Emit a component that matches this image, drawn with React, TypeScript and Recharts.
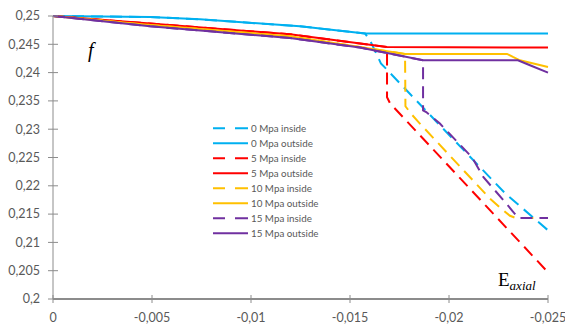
import { LineChart, Line, XAxis, YAxis } from 'recharts'

type Pt = [number, number]

// axial strain (compression negative) vs friction coefficient f
const outside0: Pt[] = [[0, 0.25], [-0.0049, 0.24982], [-0.00742, 0.24942], [-0.01247, 0.24818], [-0.01576, 0.2469], [-0.025, 0.2469]]
const inside0: Pt[] = [[0, 0.25], [-0.0049, 0.24982], [-0.00742, 0.24942], [-0.01247, 0.24818], [-0.01576, 0.2469], [-0.01601, 0.24571], [-0.01656, 0.24164], [-0.01954, 0.23069], [-0.02283, 0.21869], [-0.025, 0.21214]]

const outside5: Pt[] = [[0, 0.25], [-0.0049, 0.24866], [-0.01197, 0.24677], [-0.01687, 0.24452], [-0.025, 0.24442]]
const inside5: Pt[] = [[0, 0.25], [-0.0049, 0.24866], [-0.01197, 0.24677], [-0.01687, 0.24452], [-0.01687, 0.23564], [-0.01702, 0.23458], [-0.025, 0.20472]]

const outside10: Pt[] = [[0, 0.25], [-0.0049, 0.24841], [-0.01197, 0.24641], [-0.01778, 0.2433], [-0.02293, 0.2433], [-0.02323, 0.24276], [-0.02358, 0.24217], [-0.025, 0.24099]]
const inside10: Pt[] = [[0, 0.25], [-0.0049, 0.24841], [-0.01197, 0.24641], [-0.01778, 0.2433], [-0.0178, 0.23405], [-0.01811, 0.23263], [-0.01853, 0.23099], [-0.02207, 0.21774], [-0.02274, 0.21567], [-0.02308, 0.2147], [-0.02338, 0.21431], [-0.025, 0.21431]]

const outside15: Pt[] = [[0, 0.25], [-0.0049, 0.24818], [-0.01197, 0.24611], [-0.0155, 0.24442], [-0.01869, 0.24217], [-0.02348, 0.24217], [-0.02409, 0.24129], [-0.025, 0.24]]
const inside15: Pt[] = [[0, 0.25], [-0.0049, 0.24818], [-0.01197, 0.24611], [-0.0155, 0.24442], [-0.01869, 0.24217], [-0.01869, 0.23334], [-0.01885, 0.23304], [-0.01954, 0.23099], [-0.02116, 0.22504], [-0.02173, 0.22156], [-0.02283, 0.21713], [-0.02325, 0.21537], [-0.02348, 0.21431], [-0.025, 0.21431]]

const xTicks = [0, -0.005, -0.01, -0.015, -0.02, -0.025]
const yTicks = [0.2, 0.205, 0.21, 0.215, 0.22, 0.225, 0.23, 0.235, 0.24, 0.245, 0.25]

const BLUE = '#00B0F0'
const RED = '#FF0000'
const GOLD = '#FFC000'
const PURPLE = '#7030A0'

const series = [
  { name: '0 Mpa inside', color: BLUE, dashed: true, points: inside0 },
  { name: '0 Mpa outside', color: BLUE, dashed: false, points: outside0 },
  { name: '5 Mpa inside', color: RED, dashed: true, points: inside5 },
  { name: '5 Mpa outside', color: RED, dashed: false, points: outside5 },
  { name: '10 Mpa inside', color: GOLD, dashed: true, points: inside10 },
  { name: '10 Mpa outside', color: GOLD, dashed: false, points: outside10 },
  { name: '15 Mpa inside', color: PURPLE, dashed: true, points: inside15 },
  { name: '15 Mpa outside', color: PURPLE, dashed: false, points: outside15 },
]

const AXIS = '#8c8c8c'
const LABEL = '#595959'
const FONT = 'Lato, sans-serif'

const fmt = (v: number) => String(v).replace('.', ',')

function YTick({ x, y, payload }: any) {
  return (
    <g>
      <line x1={x - 5} x2={x + 5} y1={y} y2={y} stroke={AXIS} strokeWidth={1} />
      <text x={x - 13} y={y} dy="0.35em" textAnchor="end" fill={LABEL} fontSize={12.5} fontFamily={FONT}>
        {fmt(payload.value)}
      </text>
    </g>
  )
}

function XTick({ x, y, payload }: any) {
  return (
    <g>
      <line x1={x} x2={x} y1={y - 4} y2={y + 4} stroke={AXIS} strokeWidth={1} />
      <text x={x} y={y + 23} textAnchor="middle" fill={LABEL} fontSize={12.5} fontFamily={FONT}>
        {fmt(payload.value)}
      </text>
    </g>
  )
}

export default function App() {
  return (
    <div style={{ position: 'absolute', left: 0, top: 0, width: 565, height: 332, background: '#fff' }}>
      <LineChart width={565} height={332} margin={{ top: 16, right: 17, bottom: 0, left: 0 }}>
        <XAxis
          dataKey="x"
          type="number"
          domain={[-0.025, 0]}
          reversed
          ticks={xTicks}
          interval={0}
          height={33}
          tickSize={0}
          tickMargin={0}
          tick={<XTick />}
          axisLine={{ stroke: AXIS, strokeWidth: 2 }}
        />
        <YAxis
          type="number"
          domain={[0.2, 0.25]}
          ticks={yTicks}
          interval={0}
          width={53}
          tickSize={0}
          tickMargin={0}
          tick={<YTick />}
          axisLine={{ stroke: AXIS, strokeWidth: 1 }}
        />
        {series.map((s) => (
          <Line
            key={s.name}
            data={s.points.map(([x, y]) => ({ x, y }))}
            dataKey="y"
            type="linear"
            stroke={s.color}
            strokeWidth={2}
            strokeDasharray={s.dashed ? '12 7' : undefined}
            dot={false}
            activeDot={false}
            isAnimationActive={false}
          />
        ))}
      </LineChart>
      <svg width={565} height={332} style={{ position: 'absolute', left: 0, top: 0, pointerEvents: 'none' }}>
        {series.map((s, i) => {
          const cy = 128.3 + i * 15
          return (
            <g key={s.name}>
              <line x1={213} x2={248} y1={cy} y2={cy} stroke={s.color} strokeWidth={2} strokeDasharray={s.dashed ? '12 10 13' : undefined} />
              <text x={251} y={cy} dy="0.35em" fill={LABEL} fontSize={9.8} fontFamily={FONT}>{s.name}</text>
            </g>
          )
        })}
        <text x={88} y={57} fontSize={20} fontStyle="italic" fontFamily="'Liberation Serif', serif" fill="#000">f</text>
        <text x={498} y={286} fontSize={19} fontFamily="'Liberation Serif', serif" fill="#000">
          E<tspan fontSize={13} fontStyle="italic" dy={4}>axial</tspan>
        </text>
      </svg>
    </div>
  )
}
